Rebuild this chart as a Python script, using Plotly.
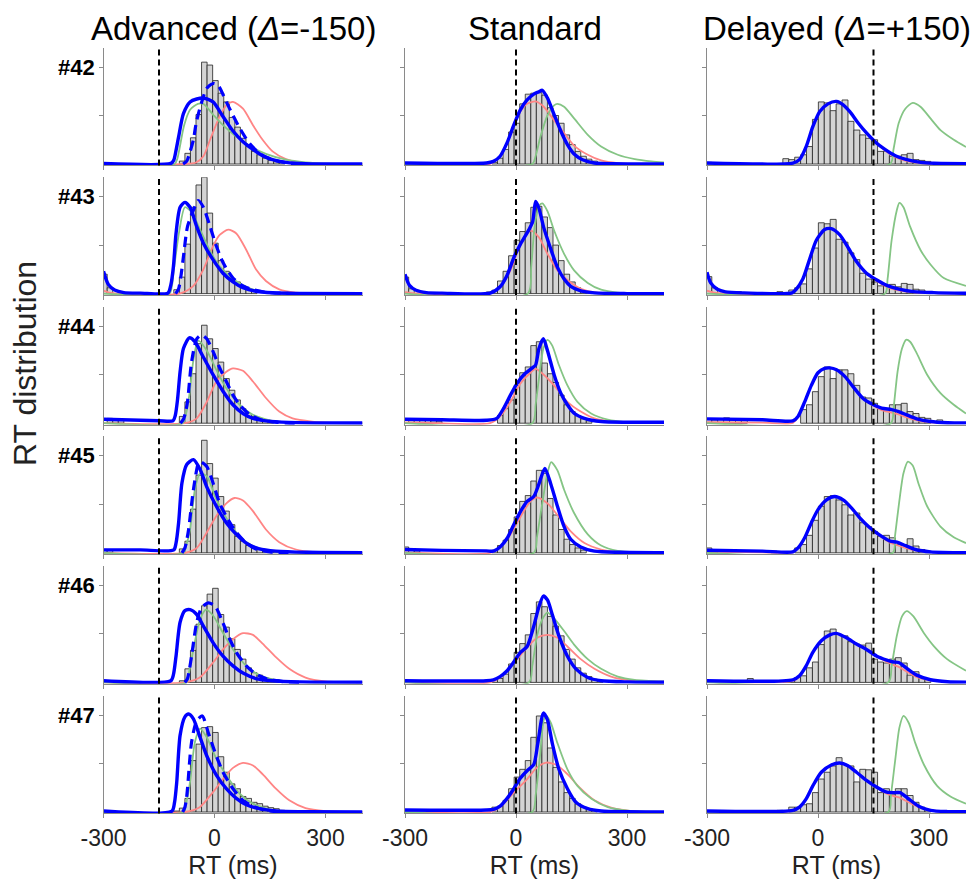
import plotly.graph_objects as go

# ---------------- labels ----------------
SUBJECTS = ["#42", "#43", "#44", "#45", "#46", "#47"]
CONDITIONS = ["Advanced (<i>Δ</i>=-150)", "Standard", "Delayed (<i>Δ</i>=+150)"]
DELTAS = [-150, 0, 150]
X_TICKS = [-300, 0, 300]
X_TICK_TEXT = ["-300", "0", "300"]
Y_TICKS = [5, 10]
BIN_WIDTH = [15, 15, 16]   # ms, per condition column

# ---------------- histograms (left edge of first bin, bar heights) ----------------
adv42_start = -95
adv42_hist = [0.3, 1.1, 2.7, 5.1, 10.5, 10.2, 8.6, 7.3, 6.4, 4.8, 3.8, 2.65, 1.8, 1.3, 0.95, 0.6, 0.37, 0.24, 0.17]
adv43_start = -305
adv43_hist = [2.0, 0.6, 0, 0, 0, 0, 0, 0, 0, 0, 0, 0, 0, 0.4, 1.7, 5.1, 8.9, 11.2, 12.0, 8.3, 5.2, 3.4, 2.3, 1.5, 1.2, 0.8, 0.5, 0.35]
adv44_start = -290
adv44_hist = [0.5, 0.4, 0.3, 0, 0, 0, 0, 0, 0, 0, 0, 0, 0, 0.7, 2.2, 5.1, 8.2, 10.1, 8.7, 7.7, 6.3, 4.6, 3.4, 2.4, 1.5, 1.0, 0.7, 0.45, 0.35, 0.25]
adv45_start = -305
adv45_hist = [0.35, 0.3, 0, 0, 0, 0, 0, 0, 0, 0, 0, 0, 0, 0, 0.4, 1.2, 4.5, 8.0, 11.6, 9.2, 7.7, 5.8, 4.3, 2.9, 1.7, 1.2, 0.75, 0.5, 0.35, 0.27, 0.17, 0.17]
adv46_start = -95
adv46_hist = [0.17, 1.4, 3.3, 6.0, 7.9, 9.1, 9.7, 7.0, 5.7, 4.5, 3.4, 2.4, 1.5, 1.0, 0.75, 0.5, 0.34, 0.27]
adv47_start = -110
adv47_hist = [0.1, 0.4, 1.4, 5.3, 7.0, 8.7, 8.8, 8.2, 5.7, 4.1, 2.9, 2.4, 1.6, 1.4, 1.0, 0.86, 0.6, 0.45, 0.34, 0.17]

std42_start = -65
std42_hist = [0.17, 0.6, 1.5, 3.3, 4.2, 6.2, 7.2, 7.3, 7.35, 7.1, 5.8, 5.0, 4.2, 3.0, 2.0, 1.3, 0.8, 0.5, 0.3, 0.17]
std43_start = -305
std43_hist = [1.7, 0.5, 0, 0, 0, 0, 0, 0, 0, 0, 0, 0, 0, 0, 0, 0.17, 0.35, 1.3, 2.3, 3.9, 5.5, 6.4, 7.3, 8.9, 9.0, 7.9, 6.8, 5.0, 3.4, 2.0, 1.2, 0.6, 0.3, 0.15]
std44_start = -290
std44_hist = [0.45, 0.35, 0.3, 0.3, 0.25, 0.2, 0, 0, 0, 0, 0, 0, 0, 0, 0, 0, 0.8, 1.5, 2.4, 3.9, 5.2, 5.8, 8.0, 8.4, 6.2, 5.1, 4.2, 2.9, 1.9, 1.2, 0.8, 0.45, 0.25]
std45_start = -305
std45_hist = [0.6, 0.3, 0.2, 0, 0, 0, 0, 0, 0, 0, 0, 0, 0, 0, 0, 0, 0.27, 0.75, 1.3, 2.4, 3.7, 5.3, 5.9, 7.4, 8.5, 8.2, 5.6, 3.9, 2.4, 1.4, 0.85, 0.5, 0.27]
std46_start = -65
std46_hist = [0.27, 0.4, 0.85, 1.9, 3.1, 4.0, 4.9, 7.1, 8.3, 7.8, 6.8, 5.8, 4.8, 3.4, 2.4, 1.5, 0.95, 0.6, 0.34, 0.2]
std47_start = -65
std47_hist = [0.5, 0.6, 1.2, 2.4, 3.6, 4.4, 5.3, 7.7, 9.9, 9.2, 6.6, 4.6, 3.1, 2.0, 1.4, 0.85, 0.5, 0.27, 0.17]

del42_start = -303
del42_hist = [0.17, 0, 0, 0, 0, 0, 0, 0, 0, 0, 0, 0, 0, 0.55, 0.45, 0.7, 0.95, 1.8, 4.6, 6.4, 6.3, 5.5, 6.2, 6.6, 4.4, 3.5, 3.0, 2.65, 2.5, 1.3, 1.3, 0.8, 0.8, 0.95, 1.1, 0.45, 0.37, 0.27]
del43_start = -303
del43_hist = [1.75, 0.6, 0, 0, 0, 0.2, 0, 0, 0, 0, 0, 0, 0.2, 0, 0.37, 0.6, 1.0, 2.55, 4.7, 7.3, 7.2, 7.65, 5.6, 5.3, 4.2, 3.5, 2.1, 1.5, 1.2, 0.8, 0.8, 0.95, 0.7, 1.05, 0.95, 0.45, 0.37, 0.17]
del44_start = -303
del44_hist = [0.45, 0.34, 0.45, 0.55, 0.34, 0.34, 0.45, 0, 0, 0, 0, 0, 0, 0, 0, 0, 1.4, 1.9, 3.25, 4.8, 5.8, 4.6, 5.5, 5.5, 5.1, 3.9, 2.7, 2.6, 2.05, 1.5, 1.4, 1.9, 1.9, 2.05, 1.2, 1.0, 0.6, 0.5, 0, 0.34]
del45_start = -303
del45_hist = [0.5, 0.2, 0, 0, 0, 0, 0, 0, 0, 0, 0, 0.17, 0, 0, 0, 0.5, 0.85, 1.8, 3.35, 4.8, 5.8, 5.9, 5.45, 4.95, 3.9, 4.1, 3.1, 2.7, 2.2, 1.7, 1.8, 1.55, 0.85, 0.85, 1.45, 0.7, 0.34, 0.17]
del46_start = -303
del46_hist = [0, 0, 0, 0, 0, 0, 0, 0.4, 0, 0, 0, 0, 0, 0.17, 0.27, 0.5, 0.68, 1.5, 2.1, 3.9, 5.3, 5.5, 4.95, 4.8, 4.2, 3.95, 3.85, 4.05, 2.4, 2.1, 2.0, 2.4, 2.55, 2.0, 0.75, 1.1, 0.5, 0.34]
del47_start = -303
del47_hist = [0, 0, 0, 0, 0, 0, 0, 0, 0, 0, 0, 0, 0.17, 0, 0.5, 0.5, 0.75, 0.85, 2.0, 3.4, 4.1, 4.75, 5.6, 4.9, 4.75, 3.1, 4.4, 4.35, 4.1, 2.0, 2.4, 1.85, 2.4, 2.4, 1.7, 1.0, 0.5, 0.27]

# ---------------- model curves ([RT ms, density]) ----------------
adv42_red = [[-300, 0], [-80, 0], [-50, 0.15], [-30, 0.8], [-12, 2.5], [14, 4.9], [32, 6.05], [50, 6.4], [77, 5.7], [104, 4.0], [130, 2.5], [157, 1.3], [193, 0.5], [229, 0.17], [273, 0.03], [400, 0]]
adv42_green = [[-300, 0], [-108, 0], [-100, 0.6], [-95, 1.5], [-82, 4.0], [-66, 5.6], [-45, 6.2], [-30, 6.2], [-4, 5.1], [23, 4.0], [50, 3.1], [77, 2.35], [104, 1.65], [139, 1.05], [193, 0.44], [246, 0.17], [310, 0.04], [400, 0]]
adv42_blue = [[-300, 0.05], [-118, 0.06], [-110, 0.4], [-104, 1.4], [-97, 2.8], [-84, 5.2], [-66, 6.4], [-48, 6.7], [-30, 6.8], [-4, 6.4], [23, 4.9], [50, 3.4], [77, 2.3], [104, 1.5], [130, 0.85], [157, 0.44], [193, 0.17], [246, 0.03], [400, 0]]
adv42_dash = [[-85, 0], [-75, 0.3], [-65, 1.4], [-57, 2.5], [-48, 4.5], [-21, 7.8], [-4, 8.3], [10, 8.1], [32, 6.4], [50, 5.0], [68, 3.7], [95, 2.1], [125, 1.0], [160, 0.4], [200, 0.1], [240, 0]]

adv43_red = [[-300, 0.3], [-285, 0.1], [-260, 0], [-95, 0], [-57, 0.8], [-30, 2.5], [-4, 4.9], [14, 6.05], [37, 6.6], [59, 6.2], [86, 4.5], [112, 2.5], [139, 1.3], [175, 0.44], [220, 0.1], [280, 0], [400, 0]]
adv43_green = [[-300, 0], [-122, 0], [-115, 0.8], [-110, 2.4], [-95, 6.5], [-80, 8.9], [-62, 8.4], [-39, 6.6], [-12, 4.4], [14, 2.8], [50, 1.5], [86, 0.7], [121, 0.25], [166, 0.05], [400, 0]]
adv43_blue = [[-300, 2.3], [-287, 0.95], [-270, 0.37], [-245, 0.1], [-200, 0.05], [-126, 0.05], [-118, 0.9], [-111, 2.8], [-104, 6.2], [-93, 8.9], [-80, 9.4], [-66, 8.9], [-48, 6.9], [-30, 5.2], [-4, 3.5], [23, 2.1], [50, 1.2], [77, 0.6], [112, 0.24], [157, 0.08], [220, 0.02], [400, 0]]
adv43_dash = [[-105, 0], [-97, 0.5], [-90, 2.0], [-84, 3.8], [-73, 6.9], [-57, 8.6], [-44, 9.6], [-30, 8.9], [-12, 6.9], [5, 4.9], [23, 3.2], [50, 1.6], [77, 0.8], [104, 0.4], [140, 0.12], [200, 0.02]]

adv44_red = [[-300, 0], [-80, 0], [-48, 0.5], [-21, 2.2], [5, 4.3], [32, 5.3], [50, 5.65], [77, 5.4], [104, 4.3], [139, 2.6], [175, 1.2], [211, 0.5], [264, 0.17], [320, 0.03], [400, 0]]
adv44_green = [[-300, 0], [-86, 0], [-78, 0.8], [-68, 2.9], [-57, 6.5], [-44, 8.5], [-21, 7.5], [5, 5.5], [32, 3.6], [68, 1.9], [104, 0.86], [157, 0.24], [220, 0.05], [400, 0]]
adv44_blue = [[-300, 0.4], [-250, 0.35], [-150, 0.25], [-112, 0.25], [-106, 0.8], [-100, 2.4], [-93, 5.3], [-84, 7.7], [-68, 8.8], [-53, 8.4], [-30, 6.8], [-4, 5.0], [23, 3.3], [50, 1.9], [77, 1.0], [104, 0.5], [139, 0.24], [200, 0.08], [400, 0.02]]
adv44_dash = [[-92, 0], [-84, 0.4], [-78, 1.2], [-73, 2.2], [-62, 6.3], [-48, 8.7], [-35, 9.1], [-21, 8.7], [-4, 7.4], [14, 5.7], [32, 4.3], [50, 2.9], [68, 1.9], [95, 0.9], [125, 0.35], [170, 0.08], [220, 0]]

adv45_red = [[-300, 0], [-80, 0], [-48, 0.5], [-21, 2.1], [5, 3.8], [32, 5.1], [54, 5.65], [77, 5.4], [104, 4.3], [139, 2.4], [175, 1.1], [220, 0.34], [273, 0.07], [400, 0]]
adv45_green = [[-300, 0], [-84, 0], [-76, 0.8], [-66, 2.4], [-53, 6.5], [-39, 8.2], [-21, 7.9], [5, 5.5], [32, 3.6], [68, 1.7], [104, 0.7], [157, 0.17], [220, 0.03], [400, 0]]
adv45_blue = [[-300, 0.3], [-200, 0.3], [-110, 0.3], [-104, 1.0], [-97, 3.1], [-88, 7.2], [-75, 9.1], [-57, 9.6], [-39, 8.6], [-21, 6.8], [5, 4.8], [32, 3.1], [59, 1.9], [86, 1.0], [121, 0.4], [166, 0.17], [250, 0.05], [400, 0.02]]
adv45_dash = [[-88, 0], [-80, 0.5], [-75, 1.3], [-70, 2.4], [-57, 6.5], [-44, 9.2], [-39, 9.4], [-21, 8.9], [-4, 7.2], [14, 5.1], [37, 3.4], [59, 2.1], [86, 1.0], [112, 0.4], [150, 0.1], [200, 0]]

adv46_red = [[-300, 0], [-80, 0], [-40, 0.5], [-4, 2.05], [23, 3.4], [50, 4.45], [77, 5.07], [104, 4.9], [130, 4.0], [166, 2.6], [202, 1.4], [246, 0.5], [300, 0.1], [400, 0]]
adv46_green = [[-300, 0], [-76, 0], [-68, 1.2], [-57, 3.4], [-39, 6.5], [-23, 7.5], [-4, 6.9], [23, 5.1], [50, 3.4], [86, 1.7], [121, 0.75], [175, 0.17], [240, 0.03], [400, 0]]
adv46_blue = [[-300, 0.17], [-118, 0.17], [-111, 0.8], [-104, 2.7], [-93, 6.2], [-80, 7.4], [-66, 7.5], [-48, 7.0], [-30, 5.8], [-4, 4.1], [23, 2.7], [50, 1.7], [77, 0.96], [112, 0.4], [157, 0.17], [230, 0.05], [400, 0.02]]
adv46_dash = [[-80, 0], [-73, 0.4], [-68, 1.3], [-62, 2.7], [-48, 6.2], [-35, 7.7], [-17, 8.2], [1, 7.9], [19, 6.5], [37, 4.8], [59, 3.1], [86, 1.7], [112, 0.86], [139, 0.4], [180, 0.1], [230, 0]]

adv47_red = [[-300, 0], [-80, 0], [-40, 0.5], [-4, 2.05], [23, 3.4], [50, 4.55], [77, 5.07], [104, 4.8], [130, 3.9], [166, 2.4], [202, 1.2], [246, 0.4], [300, 0.1], [400, 0]]
adv47_green = [[-300, 0], [-84, 0], [-76, 1.0], [-66, 3.1], [-53, 7.2], [-39, 8.6], [-21, 7.7], [5, 5.5], [32, 3.8], [68, 1.9], [104, 0.86], [157, 0.17], [220, 0.03], [400, 0]]
adv47_blue = [[-300, 0.1], [-115, 0.1], [-108, 1.0], [-102, 3.1], [-93, 7.9], [-80, 9.8], [-70, 10.1], [-57, 9.6], [-39, 7.7], [-21, 5.8], [5, 3.8], [32, 2.4], [59, 1.4], [86, 0.75], [121, 0.34], [166, 0.1], [250, 0.02], [400, 0]]
adv47_dash = [[-86, 0], [-80, 0.5], [-76, 1.3], [-73, 2.4], [-62, 7.2], [-48, 9.4], [-33, 9.9], [-17, 8.2], [1, 6.2], [23, 4.1], [50, 2.4], [77, 1.2], [104, 0.6], [140, 0.15], [190, 0]]

std42_red = [[-300, 0], [-70, 0], [-43, 0.8], [-24, 2.2], [-6, 3.9], [12, 5.4], [30, 6.2], [53, 6.45], [75, 5.9], [103, 4.5], [130, 3.2], [157, 1.9], [194, 0.95], [230, 0.37], [275, 0.1], [330, 0.02], [400, 0]]
std42_green = [[-300, 0], [44, 0], [53, 0.8], [66, 2.8], [85, 5.0], [103, 6.05], [112, 6.2], [130, 5.9], [157, 4.7], [194, 3.0], [230, 1.8], [275, 0.95], [321, 0.5], [366, 0.27], [400, 0.17]]
std42_blue = [[-300, 0.1], [-80, 0.1], [-61, 0.27], [-43, 0.8], [-24, 2.2], [-6, 4.0], [12, 5.6], [30, 6.6], [48, 7.2], [62, 7.45], [71, 7.6], [85, 6.8], [103, 5.1], [121, 3.4], [139, 2.0], [157, 1.03], [180, 0.44], [212, 0.1], [260, 0.02], [400, 0]]

std43_red = [[-300, 0.15], [-280, 0.05], [-250, 0], [-75, 0], [-43, 0.7], [-15, 2.4], [12, 5.1], [39, 6.5], [62, 5.8], [85, 4.1], [112, 2.4], [139, 1.4], [175, 0.5], [221, 0.1], [280, 0.02], [400, 0]]
std43_green = [[-300, 0], [32, 0], [41, 2.7], [50, 6.8], [62, 9.0], [71, 9.3], [85, 8.5], [103, 6.5], [130, 4.1], [157, 2.4], [194, 1.1], [230, 0.4], [275, 0.1], [330, 0.02], [400, 0]]
std43_blue = [[-300, 2.0], [-288, 0.85], [-270, 0.34], [-242, 0.1], [-200, 0.05], [-70, 0.05], [-43, 0.7], [-24, 1.9], [-6, 3.7], [12, 5.1], [35, 6.6], [45, 7.4], [53, 9.5], [62, 8.8], [75, 6.8], [94, 4.6], [112, 2.7], [130, 1.5], [148, 0.75], [175, 0.27], [212, 0.07], [300, 0], [400, 0]]

std44_red = [[-300, 0.07], [-250, 0.05], [-70, 0], [-43, 0.7], [-15, 2.2], [12, 4.1], [39, 5.2], [53, 5.6], [75, 5.0], [103, 3.9], [139, 2.2], [175, 1.2], [212, 0.5], [267, 0.14], [330, 0.03], [400, 0]]
std44_green = [[-300, 0], [44, 0], [53, 1.9], [62, 4.6], [74, 7.7], [85, 8.6], [98, 8.0], [116, 6.0], [139, 3.9], [166, 2.2], [203, 1.0], [248, 0.37], [300, 0.12], [400, 0.03]]
std44_blue = [[-300, 0.4], [-200, 0.35], [-80, 0.3], [-52, 0.5], [-34, 1.5], [-15, 2.9], [3, 4.1], [21, 5.0], [44, 5.7], [53, 6.0], [62, 7.7], [74, 8.7], [85, 7.5], [103, 5.0], [121, 3.1], [139, 1.9], [157, 1.03], [185, 0.5], [230, 0.17], [300, 0.1], [400, 0.1]]

std45_red = [[-300, 0.05], [-70, 0], [-43, 0.6], [-15, 1.9], [12, 3.7], [39, 5.3], [57, 5.7], [85, 5.1], [112, 3.9], [148, 2.2], [185, 1.0], [230, 0.34], [285, 0.07], [400, 0]]
std45_green = [[-300, 0], [48, 0], [57, 1.7], [71, 5.1], [85, 8.2], [95, 9.35], [112, 8.5], [130, 6.5], [157, 4.1], [194, 1.9], [230, 0.75], [275, 0.2], [330, 0.05], [400, 0]]
std45_blue = [[-300, 0.34], [-200, 0.25], [-80, 0.2], [-61, 0.17], [-43, 0.6], [-24, 1.5], [-6, 2.9], [12, 4.25], [30, 5.3], [48, 5.8], [62, 7.1], [78, 8.7], [94, 7.1], [112, 4.8], [130, 2.7], [148, 1.4], [175, 0.6], [212, 0.17], [280, 0.05], [400, 0]]

std46_red = [[-300, 0], [-70, 0], [-43, 0.5], [-6, 2.0], [30, 3.6], [57, 4.6], [85, 4.9], [112, 4.6], [139, 3.7], [175, 2.4], [212, 1.4], [257, 0.6], [312, 0.2], [400, 0.07]]
std46_green = [[-300, 0], [35, 0], [44, 1.7], [57, 4.8], [71, 6.5], [85, 7.2], [103, 6.6], [130, 5.3], [157, 3.9], [194, 2.4], [230, 1.4], [275, 0.6], [321, 0.27], [400, 0.1]]
std46_blue = [[-300, 0.17], [-80, 0.17], [-61, 0.27], [-43, 0.6], [-24, 1.2], [-6, 2.1], [12, 3.1], [30, 3.7], [48, 5.8], [62, 7.8], [74, 8.9], [85, 8.5], [98, 7.0], [116, 4.8], [139, 2.7], [162, 1.4], [194, 0.5], [230, 0.17], [300, 0.05], [400, 0.02]]

std47_red = [[-300, 0], [-70, 0], [-43, 0.5], [-6, 2.0], [30, 3.4], [57, 4.6], [82, 5.1], [112, 4.8], [139, 3.9], [175, 2.4], [212, 1.2], [257, 0.44], [310, 0.1], [400, 0.02]]
std47_green = [[-300, 0], [44, 0], [53, 1.7], [65, 5.8], [75, 9.5], [82, 9.9], [94, 9.2], [112, 7.1], [139, 4.4], [166, 2.7], [203, 1.4], [248, 0.5], [303, 0.14], [400, 0.02]]
std47_blue = [[-300, 0.2], [-80, 0.2], [-61, 0.27], [-43, 0.6], [-24, 1.4], [-6, 2.4], [12, 3.5], [30, 4.25], [48, 4.9], [59, 7.1], [74, 10.2], [85, 9.5], [98, 7.1], [116, 4.4], [139, 2.4], [162, 1.0], [194, 0.34], [230, 0.1], [300, 0.02], [400, 0]]

del42_red = [[-300, 0.05], [-70, 0.05], [-50, 0.45], [-32, 1.8], [-14, 3.85], [4.5, 5.4], [27, 6.2], [50, 6.45], [68, 6.1], [86, 5.4], [109, 4.2], [131, 3.2], [154, 2.3], [181, 1.4], [209, 0.7], [240, 0.3], [277, 0.1], [320, 0.03], [400, 0]]
del42_green = [[-300, 0], [195, 0], [204, 1.5], [218, 4.2], [236, 5.7], [256, 6.3], [277, 5.9], [304, 4.7], [331, 3.5], [367, 2.5], [400, 1.75]]
del42_blue = [[-300, 0.1], [-68, 0.1], [-50, 0.45], [-32, 1.8], [-14, 3.85], [4.5, 5.4], [27, 6.2], [50, 6.45], [68, 6.1], [86, 5.4], [109, 4.2], [131, 3.2], [154, 2.3], [181, 1.5], [209, 0.85], [240, 0.44], [277, 0.17], [313, 0.07], [400, 0.03]]

del43_red = [[-300, 0.3], [-280, 0.1], [-250, 0.02], [-70, 0.02], [-59, 0.44], [-41, 1.5], [-23, 3.5], [-4.5, 5.5], [18, 6.6], [36, 6.7], [59, 6.05], [82, 4.7], [104, 3.3], [131, 2.1], [159, 1.3], [186, 0.7], [222, 0.3], [258, 0.12], [313, 0.04], [400, 0]]
del43_green = [[-300, 0], [181, 0], [188, 1.5], [199, 5.5], [213, 8.6], [220, 9.35], [231, 8.9], [249, 6.9], [277, 4.5], [304, 3.0], [340, 1.6], [400, 0.8]]
del43_blue = [[-300, 2.2], [-290, 1.1], [-272, 0.44], [-250, 0.17], [-200, 0.07], [-70, 0.07], [-59, 0.44], [-41, 1.5], [-23, 3.5], [-4.5, 5.5], [18, 6.6], [36, 6.7], [59, 6.05], [82, 4.7], [104, 3.3], [131, 2.1], [159, 1.4], [186, 0.85], [222, 0.44], [258, 0.2], [313, 0.1], [400, 0.03]]

del44_red = [[-300, 0.1], [-150, 0.05], [-68, 0.03], [-54, 0.6], [-36, 2.2], [-18, 3.9], [0, 5.2], [18, 5.65], [32, 5.7], [50, 5.5], [73, 4.8], [95, 3.75], [122, 2.55], [150, 1.8], [172, 1.35], [199, 1.1], [218, 0.9], [240, 0.6], [267, 0.3], [304, 0.1], [400, 0]]
del44_green = [[-300, 0], [197, 0], [204, 1.5], [215, 5.3], [227, 7.7], [238, 8.6], [249, 8.4], [267, 7.2], [295, 5.0], [331, 3.1], [367, 1.9], [400, 1.0]]
del44_blue = [[-300, 0.45], [-150, 0.35], [-68, 0.24], [-54, 0.7], [-36, 2.2], [-18, 3.9], [0, 5.2], [18, 5.65], [32, 5.7], [50, 5.5], [73, 4.8], [95, 3.75], [122, 2.55], [150, 1.9], [172, 1.55], [199, 1.4], [218, 1.2], [240, 0.85], [267, 0.45], [304, 0.17], [350, 0.05], [400, 0.03]]

del45_red = [[-300, 0.1], [-150, 0.05], [-68, 0.03], [-54, 0.5], [-36, 1.55], [-18, 3.1], [0, 4.45], [23, 5.45], [45, 5.8], [68, 5.45], [91, 4.6], [113, 3.6], [141, 2.5], [168, 1.7], [195, 1.05], [213, 0.8], [236, 0.5], [263, 0.25], [304, 0.07], [400, 0]]
del45_green = [[-300, 0], [202, 0], [208, 1.7], [219, 5.1], [231, 8.2], [243, 9.4], [256, 9.0], [272, 7.1], [295, 4.8], [331, 2.7], [367, 1.6], [400, 1.0]]
del45_blue = [[-300, 0.27], [-150, 0.17], [-68, 0.1], [-54, 0.5], [-36, 1.55], [-18, 3.1], [0, 4.45], [23, 5.45], [45, 5.8], [68, 5.45], [91, 4.6], [113, 3.6], [141, 2.55], [168, 1.8], [195, 1.2], [213, 1.1], [236, 0.75], [263, 0.34], [304, 0.1], [400, 0.02]]

del46_red = [[-300, 0.1], [-68, 0.15], [-50, 0.6], [-32, 1.7], [-14, 3.1], [9, 4.3], [32, 4.9], [50, 5.05], [77, 4.6], [104, 3.95], [131, 3.4], [159, 2.7], [186, 2.1], [204, 1.8], [218, 1.6], [240, 1.1], [267, 0.55], [304, 0.2], [350, 0.05], [400, 0.02]]
del46_green = [[-300, 0], [190, 0], [199, 1.7], [213, 4.8], [227, 6.8], [240, 7.35], [258, 6.8], [286, 5.1], [313, 3.75], [349, 2.4], [400, 1.2]]
del46_blue = [[-300, 0.17], [-68, 0.27], [-50, 0.68], [-32, 1.7], [-14, 3.1], [9, 4.3], [32, 4.9], [50, 5.05], [77, 4.6], [104, 3.95], [131, 3.4], [159, 2.7], [186, 2.3], [204, 2.1], [218, 2.05], [240, 1.45], [267, 0.75], [304, 0.27], [350, 0.07], [400, 0.03]]

del47_red = [[-300, 0.05], [-68, 0.12], [-50, 0.45], [-32, 1.35], [-14, 2.7], [9, 4.1], [36, 4.85], [59, 5.05], [82, 4.75], [104, 4.1], [131, 3.25], [159, 2.5], [186, 1.9], [209, 1.6], [222, 1.45], [245, 1.0], [272, 0.5], [304, 0.15], [350, 0.04], [400, 0.01]]
del47_green = [[-300, 0], [190, 0], [197, 1.7], [209, 5.45], [220, 8.7], [231, 9.9], [245, 9.2], [263, 7.1], [286, 4.9], [322, 2.7], [358, 1.6], [400, 0.85]]
del47_blue = [[-300, 0.1], [-68, 0.17], [-50, 0.5], [-32, 1.35], [-14, 2.7], [9, 4.1], [36, 4.85], [59, 5.05], [82, 4.75], [104, 4.1], [131, 3.25], [159, 2.55], [186, 2.05], [209, 2.0], [222, 2.0], [245, 1.35], [272, 0.6], [304, 0.17], [350, 0.04], [400, 0.02]]

# ---------------- assemble panel table from the named lists ----------------
g = globals()
PREFIX = ["adv", "std", "del"]
panels = []
for r, subj in enumerate(SUBJECTS):
    sid = subj[1:]
    for c, p in enumerate(PREFIX):
        key = f"{p}{sid}"
        panels.append(dict(
            r=r, c=c,
            start=g[f"{key}_start"], hist=g[f"{key}_hist"],
            red=g[f"{key}_red"], green=g[f"{key}_green"], blue=g[f"{key}_blue"],
            dash=g.get(f"{key}_dash"),
        ))

# ---------------- style / layout ----------------
W, H = 976, 893
FONT = "Arial, Liberation Sans, sans-serif"
COL_PX = [(103.5, 362.5), (405.0, 664.0), (707.0, 966.0)]
ROW_BASE0, ROW_PITCH, UNIT_PX = 164.0, 129.6, 9.7
Y_MAX, Y_MIN = 12.0, -0.15
AXIS_GRAY = "#8a8a8a"
RED, GREEN, BLUE = "#ff8585", "#85c585", "#0000ff"

fig = go.Figure()
layout = dict(
    width=W, height=H, margin=dict(l=0, r=0, t=0, b=0),
    paper_bgcolor="white", plot_bgcolor="white", showlegend=False,
    barmode="overlay", font=dict(family=FONT, color="black"),
)
annotations, shapes = [], []

for pn in panels:
    r, c = pn["r"], pn["c"]
    k = r * 3 + c + 1
    xs = "" if k == 1 else str(k)
    xa, ya = f"x{xs}", f"y{xs}"
    base = ROW_BASE0 + ROW_PITCH * r
    top_px = base - Y_MAX * UNIT_PX
    bot_px = base - Y_MIN * UNIT_PX
    l_px, r_px = COL_PX[c]
    layout[f"xaxis{xs}"] = dict(
        domain=[l_px / W, r_px / W], anchor=ya, range=[-300, 400],
        showline=True, linecolor=AXIS_GRAY, linewidth=1, mirror=False,
        ticks="outside", ticklen=4, tickcolor=AXIS_GRAY, tickwidth=1,
        tickvals=X_TICKS, ticktext=X_TICK_TEXT, showticklabels=(r == 5),
        tickfont=dict(size=23, color="#222"), showgrid=False, zeroline=False,
        automargin=False,
        title=dict(text="RT (ms)" if r == 5 else "", font=dict(size=25, color="#222"), standoff=2),
    )
    layout[f"yaxis{xs}"] = dict(
        domain=[1 - bot_px / H, 1 - top_px / H], anchor=xa, range=[Y_MIN, Y_MAX],
        showline=True, linecolor=AXIS_GRAY, linewidth=1,
        ticks="outside", ticklen=4, tickcolor=AXIS_GRAY, tickwidth=1,
        tickvals=Y_TICKS, showticklabels=False, showgrid=False, zeroline=False,
        automargin=False,
    )
    # histogram
    bw = BIN_WIDTH[c]
    cx, hy = [], []
    for i, h in enumerate(pn["hist"]):
        if h > 0:
            cx.append(pn["start"] + bw * (i + 0.5))
            hy.append(h)
    fig.add_trace(go.Bar(x=cx, y=hy, width=bw, xaxis=xa, yaxis=ya,
                         marker=dict(color="#d4d4d4", line=dict(color="#222222", width=0.8)),
                         hoverinfo="skip"))
    # curves
    def add_curve(pts, color, width, dash=None):
        fig.add_trace(go.Scatter(
            x=[p[0] for p in pts], y=[p[1] for p in pts], mode="lines",
            xaxis=xa, yaxis=ya, hoverinfo="skip",
            line=dict(color=color, width=width, shape="spline", smoothing=0.7,
                      dash=dash if dash else "solid")))
    add_curve(pn["red"], RED, 1.8)
    add_curve(pn["green"], GREEN, 1.8)
    if pn["dash"] is not None:
        add_curve(pn["dash"], BLUE, 3.2, "10px,6px")
    add_curve(pn["blue"], BLUE, 3.4)
    # delta marker line
    shapes.append(dict(type="line", xref=xa, yref=f"{ya} domain", x0=DELTAS[c], x1=DELTAS[c],
                       y0=0, y1=1, line=dict(color="black", width=2, dash="6px,4px")))
    # subject label
    if c == 0:
        annotations.append(dict(text=f"<b>{SUBJECTS[r]}</b>", xref="paper", yref=ya,
                                x=97 / W, y=10, xanchor="right", yanchor="middle",
                                showarrow=False, font=dict(size=22, color="black")))

for c, title in enumerate(CONDITIONS):
    l_px, r_px = COL_PX[c]
    annotations.append(dict(text=title, xref="paper", yref="paper",
                            x=(l_px + r_px) / 2 / W, y=1 - 28 / H, xanchor="center", yanchor="middle",
                            showarrow=False, font=dict(size=33, color="black")))
annotations.append(dict(text="RT distribution", xref="paper", yref="paper", x=25 / W, y=1 - 364 / H,
                        xanchor="center", yanchor="middle", textangle=-90, showarrow=False,
                        font=dict(size=32, color="#222")))

layout["annotations"] = annotations
layout["shapes"] = shapes
fig.update_layout(**layout)
fig.write_html("out.html")
